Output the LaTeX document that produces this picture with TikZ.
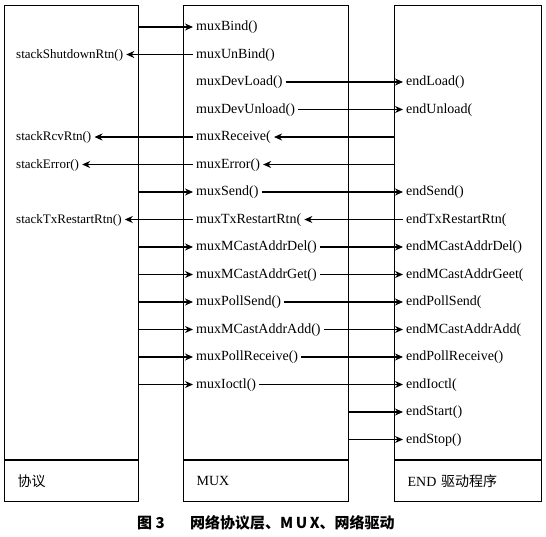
\documentclass[tikz,border=0pt]{standalone}
\usepackage{fontspec}
\setmainfont{Liberation Serif}
\newfontfamily\cjk{Noto Sans CJK SC}
\usetikzlibrary{arrows.meta, positioning}

\tikzstyle{layer} = [rectangle, draw=black, line width=1.2pt, anchor=north west, inner sep=0pt]
\tikzstyle{namecell} = [rectangle, draw=black, line width=1.2pt, anchor=north west, inner xsep=13pt, minimum height=41pt, align=left, font=\fontsize{14}{16}\selectfont]
\tikzstyle{fn} = [anchor=west, inner xsep=3pt, inner ysep=0pt, text height=10pt, text depth=3pt, font=\fontsize{14}{16}\selectfont]
\tikzstyle{stackfn} = [fn, font=\fontsize{13}{15}\selectfont]
\tikzstyle{arrow} = [line width=1.1pt,-{Stealth[length=8pt,width=7pt]}]
\tikzstyle{caption} = [anchor=west, inner sep=0pt, font=\cjk\bfseries\fontsize{15}{17}\selectfont]

\begin{document}
\begin{tikzpicture}[x=1pt,y=-1pt]
    \useasboundingbox (0,0) rectangle (546,536);

    % the three layers
    \node[layer, minimum width=134pt, minimum height=454pt] (protocol) at (4,5) {};
    \node[layer, minimum width=165pt, minimum height=454pt] (muxlayer) at (183,5) {};
    \node[layer, minimum width=147pt, minimum height=454pt] (endlayer) at (394,5) {};
    \node[namecell, text width=108pt] (protoname) at (protocol.south west) {{\cjk 协议}};
    \node[namecell, text width=139pt] (muxname) at (muxlayer.south west) {MUX};
    \node[namecell, text width=121pt] (endname) at (endlayer.south west) {END {\cjk 驱动程序}};

    % protocol side
    \node[stackfn] (stackShutdownRtn) at (13,54.5) {stackShutdownRtn()};
    \node[stackfn] (stackRcvRtn) at (13,137) {stackRcvRtn()};
    \node[stackfn] (stackError) at (13,164.5) {stackError()};
    \node[stackfn] (stackTxRestartRtn) at (13,219.5) {stackTxRestartRtn()};

    % mux calls
    \node[fn] (muxBind) at (193,27) {muxBind()};
    \node[fn] (muxUnBind) at (193,54.5) {muxUnBind()};
    \node[fn] (muxDevLoad) at (193,82) {muxDevLoad()};
    \node[fn] (muxDevUnload) at (193,109.5) {muxDevUnload()};
    \node[fn] (muxReceive) at (193,137) {muxReceive(};
    \node[fn] (muxError) at (193,164.5) {muxError()};
    \node[fn] (muxSend) at (193,192) {muxSend()};
    \node[fn] (muxTxRestartRtn) at (193,219.5) {muxTxRestartRtn(};
    \node[fn] (muxMCastAddrDel) at (193,247) {muxMCastAddrDel()};
    \node[fn] (muxMCastAddrGet) at (193,274.5) {muxMCastAddrGet()};
    \node[fn] (muxPollSend) at (193,302) {muxPollSend()};
    \node[fn] (muxMCastAddrAdd) at (193,329.5) {muxMCastAddrAdd()};
    \node[fn] (muxPollReceive) at (193,357) {muxPollReceive()};
    \node[fn] (muxIoctl) at (193,384.5) {muxIoctl()};

    % end driver entries
    \node[fn] (endLoad) at (403,82) {endLoad()};
    \node[fn] (endUnload) at (403,109.5) {endUnload(};
    \node[fn] (endSend) at (403,192) {endSend()};
    \node[fn] (endTxRestartRtn) at (403,219.5) {endTxRestartRtn(};
    \node[fn] (endMCastAddrDel) at (403,247) {endMCastAddrDel()};
    \node[fn] (endMCastAddrGet) at (403,274.5) {endMCastAddrGeet(};
    \node[fn] (endPollSend) at (403,302) {endPollSend(};
    \node[fn] (endMCastAddrAdd) at (403,329.5) {endMCastAddrAdd(};
    \node[fn] (endPollReceive) at (403,357) {endPollReceive()};
    \node[fn] (endIoctl) at (403,384.5) {endIoctl(};
    \node[fn] (endStart) at (403,412) {endStart()};
    \node[fn] (endStop) at (403,439.5) {endStop()};

    \draw [arrow] (protocol.east |- muxBind) -- (muxBind);
    \draw [arrow] (muxUnBind) -- (stackShutdownRtn);
    \draw [arrow] (muxDevLoad) -- (endLoad);
    \draw [arrow] (muxDevUnload) -- (endUnload);
    \draw [arrow] (endlayer.west |- muxReceive) -- (muxReceive);
    \draw [arrow] (muxReceive) -- (stackRcvRtn);
    \draw [arrow] (endlayer.west |- muxError) -- (muxError);
    \draw [arrow] (muxError) -- (stackError);
    \draw [arrow] (protocol.east |- muxSend) -- (muxSend);
    \draw [arrow] (muxSend) -- (endSend);
    \draw [arrow] (endTxRestartRtn) -- (muxTxRestartRtn);
    \draw [arrow] (muxTxRestartRtn) -- (stackTxRestartRtn);
    \draw [arrow] (protocol.east |- muxMCastAddrDel) -- (muxMCastAddrDel);
    \draw [arrow] (muxMCastAddrDel) -- (endMCastAddrDel);
    \draw [arrow] (protocol.east |- muxMCastAddrGet) -- (muxMCastAddrGet);
    \draw [arrow] (muxMCastAddrGet) -- (endMCastAddrGet);
    \draw [arrow] (protocol.east |- muxPollSend) -- (muxPollSend);
    \draw [arrow] (muxPollSend) -- (endPollSend);
    \draw [arrow] (protocol.east |- muxMCastAddrAdd) -- (muxMCastAddrAdd);
    \draw [arrow] (muxMCastAddrAdd) -- (endMCastAddrAdd);
    \draw [arrow] (protocol.east |- muxPollReceive) -- (muxPollReceive);
    \draw [arrow] (muxPollReceive) -- (endPollReceive);
    \draw [arrow] (protocol.east |- muxIoctl) -- (muxIoctl);
    \draw [arrow] (muxIoctl) -- (endIoctl);
    \draw [arrow] (muxlayer.east |- endStart) -- (endStart);
    \draw [arrow] (muxlayer.east |- endStop) -- (endStop);

    % caption
    \node[caption] (figno) at (137,523) {图 3};
    \node[caption] (figtitle) at (190,523) {网络协议层、M\,U\,X、网络驱动};
\end{tikzpicture}
\end{document}
